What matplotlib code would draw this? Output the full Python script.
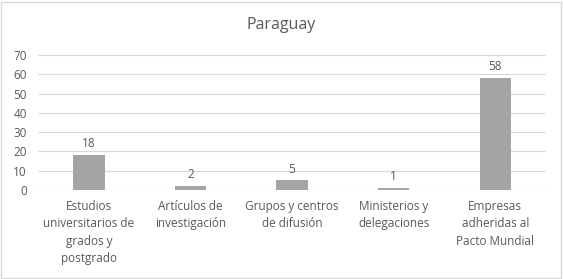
import matplotlib.pyplot as plt
from matplotlib.patches import Rectangle

categories = ["Estudios\nuniversitarios de\ngrados y\npostgrado",
              "Artículos de\ninvestigación",
              "Grupos y centros\nde difusión",
              "Ministerios y\ndelegaciones",
              "Empresas\nadheridas al\nPacto Mundial"]
values = [18, 2, 5, 1, 58]
yticks = [0, 10, 20, 30, 40, 50, 60, 70]

plt.rcParams["font.family"] = ["Open Sans", "DejaVu Sans"]
text_col = "#595959"

fig = plt.figure(figsize=(5.63, 2.79), dpi=100)
ax = fig.add_axes([0.0675, 0.319, 0.9025, 0.484])

x = range(len(categories))
bars = ax.bar(x, values, width=0.31, color="#a5a5a5", zorder=3)
for xi, v in zip(x, values):
    ax.text(xi, v + 2.5, str(v), ha="center", va="bottom", fontsize=8.5, color=text_col)

ax.set_xlim(-0.5, len(categories) - 0.5)
ax.set_ylim(0, 70)
ax.set_yticks(yticks)
ax.set_xticks(list(x))
ax.set_xticklabels(categories, fontsize=8.5, color=text_col, linespacing=1.45)
ax.tick_params(axis="y", labelsize=8.5, labelcolor=text_col, length=0, pad=8)
ax.tick_params(axis="x", length=0, pad=7)
ax.grid(axis="y", color="#d9d9d9", linewidth=0.8, zorder=0)
for s in ax.spines.values():
    s.set_visible(False)
ax.axhline(0, color="#d9d9d9", linewidth=0.8, zorder=2)

fig.text(0.5, 0.91, "Paraguay", ha="center", va="center", fontsize=11.5, color=text_col)
fig.patches.append(Rectangle((0.002, 0.004), 0.995, 0.99, transform=fig.transFigure,
                             fill=False, edgecolor="#d9d9d9", linewidth=1))

fig.savefig("out.png", dpi=100)
